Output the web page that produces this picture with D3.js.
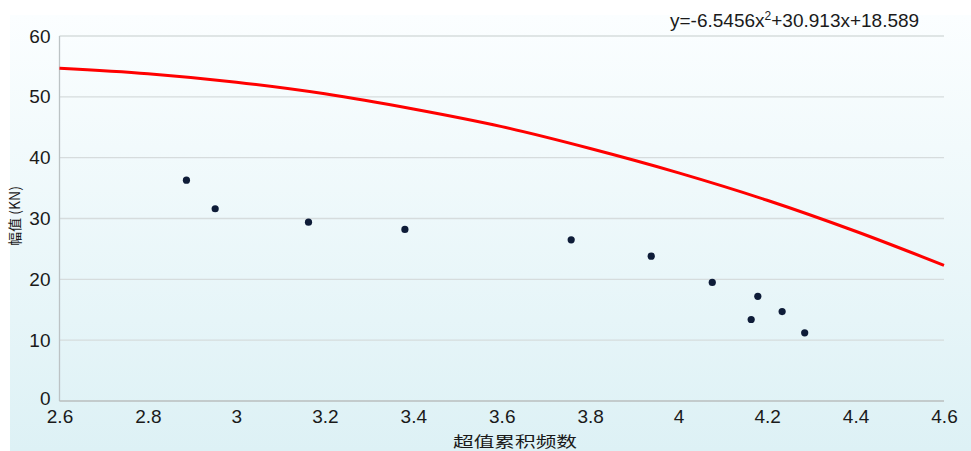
<!DOCTYPE html>
<html>
<head>
<meta charset="utf-8">
<script src="https://cdn.jsdelivr.net/npm/d3@7"></script>
<style>
  body { margin: 0; background: #fff; }
  svg { display: block; }
</style>
</head>
<body>
<div class="chart"></div>
<script>
// scatter points
var xVals = [2.887, 2.952, 3.163, 3.381, 3.757, 3.938, 4.076, 4.179, 4.164, 4.234, 4.285];
var yVals = [36.3, 31.6, 29.4, 28.2, 26.5, 23.8, 19.5, 17.2, 13.4, 14.7, 11.2];

// trend curve, read at each x tick
var curveX = [2.6, 2.8, 3.0, 3.2, 3.4, 3.6, 3.8, 4.0, 4.2, 4.4, 4.6];
var curveY = [54.7, 53.8, 52.4, 50.5, 48.0, 45.1, 41.5, 37.5, 33.0, 27.9, 22.3];

var xTicks = [2.6, 2.8, 3, 3.2, 3.4, 3.6, 3.8, 4, 4.2, 4.4, 4.6];
var xTickLabels = ["2.6", "2.8", "3", "3.2", "3.4", "3.6", "3.8", "4", "4.2", "4.4", "4.6"];
var yTicks = [0, 10, 20, 30, 40, 50, 60];

var W = 971, H = 451;
var margin = { top: 36, right: 27, bottom: 50, left: 59.5 },
    width = W - margin.left - margin.right,
    height = H - margin.top - margin.bottom;

var svg = d3.select(".chart").append("svg")
    .attr("width", W)
    .attr("height", H);

// background panel gradient
var defs = svg.append("defs");
var grad = defs.append("linearGradient")
    .attr("id", "bg")
    .attr("x1", 0).attr("y1", 0).attr("x2", 0).attr("y2", 1);
grad.append("stop").attr("offset", "0%").attr("stop-color", "#fbfeff");
grad.append("stop").attr("offset", "100%").attr("stop-color", "#ddf1f5");

svg.append("rect")
    .attr("x", 10).attr("y", 15)
    .attr("width", W - 10).attr("height", H - 15)
    .attr("fill", "url(#bg)");

var g = svg.append("g")
    .attr("transform", "translate(" + margin.left + "," + margin.top + ")");

var x = d3.scaleLinear().domain([2.6, 4.6]).range([0, width]);
var y = d3.scaleLinear().domain([0, 60]).range([height, 0]);

// horizontal grid
g.append("g")
    .selectAll("line")
    .data(yTicks)
    .enter().append("line")
    .attr("x1", 0)
    .attr("x2", width)
    .attr("y1", function(d) { return y(d); })
    .attr("y2", function(d) { return y(d); })
    .attr("stroke", "#d6dcdd")
    .attr("stroke-width", 1.3);

// left axis line
g.append("line")
    .attr("x1", 0).attr("x2", 0)
    .attr("y1", 0).attr("y2", height)
    .attr("stroke", "#bcc3c5")
    .attr("stroke-width", 1.3);

// bottom axis line
g.append("line")
    .attr("x1", 0).attr("x2", width)
    .attr("y1", height).attr("y2", height)
    .attr("stroke", "#bcc3c5")
    .attr("stroke-width", 1.5);

// y tick labels
var yAxis = g.append("g")
    .call(d3.axisLeft(y).tickValues(yTicks).tickSize(0).tickPadding(9));
yAxis.select(".domain").remove();
yAxis.selectAll("text")
    .style("font-family", "Liberation Sans, Arial, sans-serif")
    .style("font-size", "19px")
    .attr("fill", "#1a1a1a");
// the 0 label sits a little high, just above the 2.6 label
yAxis.selectAll(".tick").filter(function(d) { return d === 0; })
    .select("text").attr("dy", "0.2em");

// x tick labels
var xAxis = g.append("g")
    .attr("transform", "translate(0," + height + ")")
    .call(d3.axisBottom(x).tickValues(xTicks)
        .tickFormat(function(d, i) { return xTickLabels[i]; })
        .tickSize(0).tickPadding(9));
xAxis.select(".domain").remove();
xAxis.selectAll("text")
    .style("font-family", "Liberation Sans, Arial, sans-serif")
    .style("font-size", "19px")
    .attr("fill", "#1a1a1a");

// trend curve
var line = d3.line()
    .x(function(d) { return x(d[0]); })
    .y(function(d) { return y(d[1]); })
    .curve(d3.curveCatmullRom);

g.append("path")
    .datum(d3.zip(curveX, curveY))
    .attr("d", line)
    .attr("fill", "none")
    .attr("stroke", "#ff0000")
    .attr("stroke-width", 3);

// points
g.selectAll(".dot")
    .data(d3.zip(xVals, yVals))
    .enter().append("circle")
    .attr("class", "dot")
    .attr("cx", function(d) { return x(d[0]); })
    .attr("cy", function(d) { return y(d[1]); })
    .attr("r", 3.6)
    .attr("fill", "#0e1c38");

// equation
var eq = svg.append("text")
    .attr("x", 670)
    .attr("y", 27)
    .style("font-family", "Liberation Sans, Arial, sans-serif")
    .style("font-size", "19px")
    .attr("fill", "#1a1a1a");
eq.append("tspan").text("y=-6.5456x");
eq.append("tspan").attr("dy", -7).style("font-size", "12px").text("2");
eq.append("tspan").attr("dy", 7).text("+30.913x+18.589");

// axis titles
svg.append("text")
    .attr("transform", "translate(20,216) rotate(-90)")
    .style("text-anchor", "middle")
    .style("font-family", "Noto Sans CJK SC, sans-serif")
    .style("font-size", "14px")
    .attr("fill", "#1a1a1a")
    .text("幅值 (KN)");

svg.append("text")
    .attr("x", 515)
    .attr("y", 447)
    .style("text-anchor", "middle")
    .style("font-family", "Noto Sans CJK SC, sans-serif")
    .style("font-size", "15px")
    .attr("textLength", 124)
    .attr("lengthAdjust", "spacingAndGlyphs")
    .attr("fill", "#1a1a1a")
    .text("超值累积频数");
</script>
</body>
</html>
